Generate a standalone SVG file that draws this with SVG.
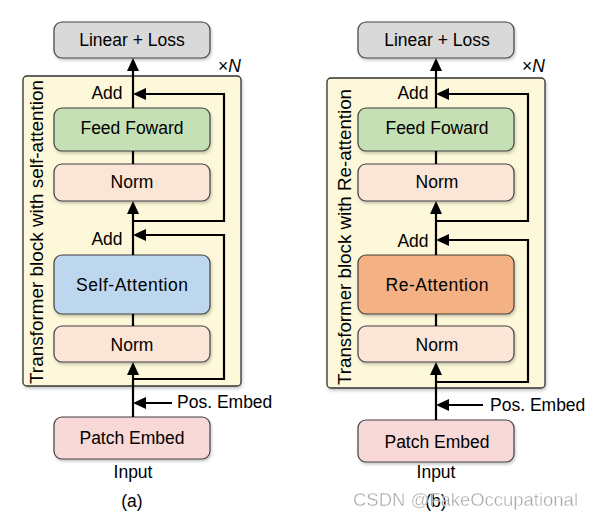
<svg xmlns="http://www.w3.org/2000/svg" width="594" height="521" viewBox="0 0 594 521">
<defs>
<marker id="ah" markerUnits="userSpaceOnUse" markerWidth="13" markerHeight="12" refX="9" refY="6" orient="auto">
<path d="M0,0 L13,6 L0,12 z" fill="#000"/>
</marker>
<filter id="sh" x="-10%" y="-10%" width="125%" height="135%">
<feDropShadow dx="1" dy="2" stdDeviation="1.5" flood-color="#000" flood-opacity="0.22"/>
</filter>
</defs>
<style>
.box{stroke:#404040;stroke-width:1.2;filter:url(#sh)}
.frame{fill:#fdf8d9;stroke:#333;stroke-width:1.3;filter:url(#sh)}
.t{font-family:"Liberation Sans",Arial,sans-serif;font-size:17.5px;fill:#000;text-anchor:middle}
.ts{font-family:"Liberation Sans",Arial,sans-serif;font-size:17.5px;fill:#000}
.c{fill:none;stroke:#000;stroke-width:2.2}
.ca{fill:none;stroke:#000;stroke-width:2.2;marker-end:url(#ah)}
.wm{font-family:"Liberation Sans",Arial,sans-serif;font-size:18.5px;fill:#9a9a9a;stroke:#fff;stroke-width:0.4;opacity:0.9}
</style>

<!-- Panel (a) -->
<g id="frame-a">
<rect class="frame" x="23" y="76" width="218" height="310" rx="4"/>
<text class="ts" transform="translate(43,232) rotate(-90)" text-anchor="middle" textLength="304" lengthAdjust="spacingAndGlyphs">Transformer block with self-attention</text>
<text class="ts" x="218" y="72">×<tspan font-style="italic">N</tspan></text>
</g>
<g id="linear-a"><rect class="box" x="54" y="22" width="156" height="36" rx="8" fill="#d9d9d9"/><text class="t" x="132" y="46">Linear + Loss</text></g>
<g id="ff-a"><rect class="box" x="54" y="108" width="156" height="43" rx="8" fill="#c5e0b4"/><text class="t" x="132" y="134">Feed Foward</text></g>
<g id="norm1-a"><rect class="box" x="54" y="164" width="156" height="37" rx="8" fill="#fbe5d6"/><text class="t" x="132" y="188">Norm</text></g>
<g id="attn-a"><rect class="box" x="54" y="255" width="156" height="59" rx="8" fill="#bdd7ee"/><text class="t" x="132" y="291" textLength="112">Self-Attention</text></g>
<g id="norm2-a"><rect class="box" x="54" y="326" width="156" height="36" rx="8" fill="#fbe5d6"/><text class="t" x="132" y="351">Norm</text></g>
<g id="patch-a"><rect class="box" x="54" y="417" width="156" height="42" rx="8" fill="#f9d9d7"/><text class="t" x="132" y="444">Patch Embed</text></g>
<g id="labels-a">
<text class="t" x="107" y="99">Add</text>
<text class="t" x="107" y="245">Add</text>
<text class="ts" x="177" y="408">Pos. Embed</text>
<text class="t" x="133" y="478">Input</text>
<text class="t" x="132" y="507">(a)</text>
</g>
<g id="connectors-a">
<path class="ca" d="M133,108 L133,62"/>
<path class="c" d="M133,151 L133,164"/>
<path class="ca" d="M133,255 L133,205"/>
<path class="c" d="M133,314 L133,326"/>
<path class="ca" d="M133,417 L133,366"/>
<path class="ca" d="M172,403 L137,403"/>
<path class="ca" d="M133,379 L224,379 L224,235 L137,235"/>
<path class="ca" d="M133,221 L224,221 L224,94 L137,94"/>
</g>

<!-- Panel (b) -->
<g id="frame-b">
<rect class="frame" x="327" y="78" width="218" height="310" rx="4"/>
<text class="ts" transform="translate(351,237) rotate(-90)" text-anchor="middle" textLength="296" lengthAdjust="spacingAndGlyphs">Transformer block with Re-attention</text>
<text class="ts" x="522" y="72">×<tspan font-style="italic">N</tspan></text>
</g>
<g id="linear-b"><rect class="box" x="358" y="22" width="156" height="36" rx="8" fill="#d9d9d9"/><text class="t" x="437" y="46">Linear + Loss</text></g>
<g id="ff-b"><rect class="box" x="358" y="108" width="156" height="43" rx="8" fill="#c5e0b4"/><text class="t" x="437" y="134">Feed Foward</text></g>
<g id="norm1-b"><rect class="box" x="358" y="164" width="156" height="37" rx="8" fill="#fbe5d6"/><text class="t" x="437" y="188">Norm</text></g>
<g id="attn-b"><rect class="box" x="358" y="255" width="156" height="59" rx="8" fill="#f4b183"/><text class="t" x="437" y="291" textLength="103">Re-Attention</text></g>
<g id="norm2-b"><rect class="box" x="358" y="326" width="156" height="36" rx="8" fill="#fbe5d6"/><text class="t" x="437" y="351">Norm</text></g>
<g id="patch-b"><rect class="box" x="358" y="420" width="156" height="42" rx="8" fill="#f9d9d7"/><text class="t" x="437" y="448">Patch Embed</text></g>
<g id="labels-b">
<text class="t" x="413" y="99">Add</text>
<text class="t" x="413" y="247">Add</text>
<text class="ts" x="490" y="411">Pos. Embed</text>
<text class="t" x="436" y="478">Input</text>
</g>
<g id="connectors-b">
<path class="ca" d="M436,108 L436,62"/>
<path class="c" d="M436,151 L436,164"/>
<path class="ca" d="M436,255 L436,205"/>
<path class="c" d="M436,314 L436,326"/>
<path class="ca" d="M436,420 L436,366"/>
<path class="ca" d="M483,405 L440,405"/>
<path class="ca" d="M436,382 L528,382 L528,240 L440,240"/>
<path class="ca" d="M436,221 L528,221 L528,94 L440,94"/>
</g>
<text class="t" x="436" y="507">(b)</text>
<text class="wm" x="353" y="506" textLength="225">CSDN @FakeOccupational</text>
</svg>
